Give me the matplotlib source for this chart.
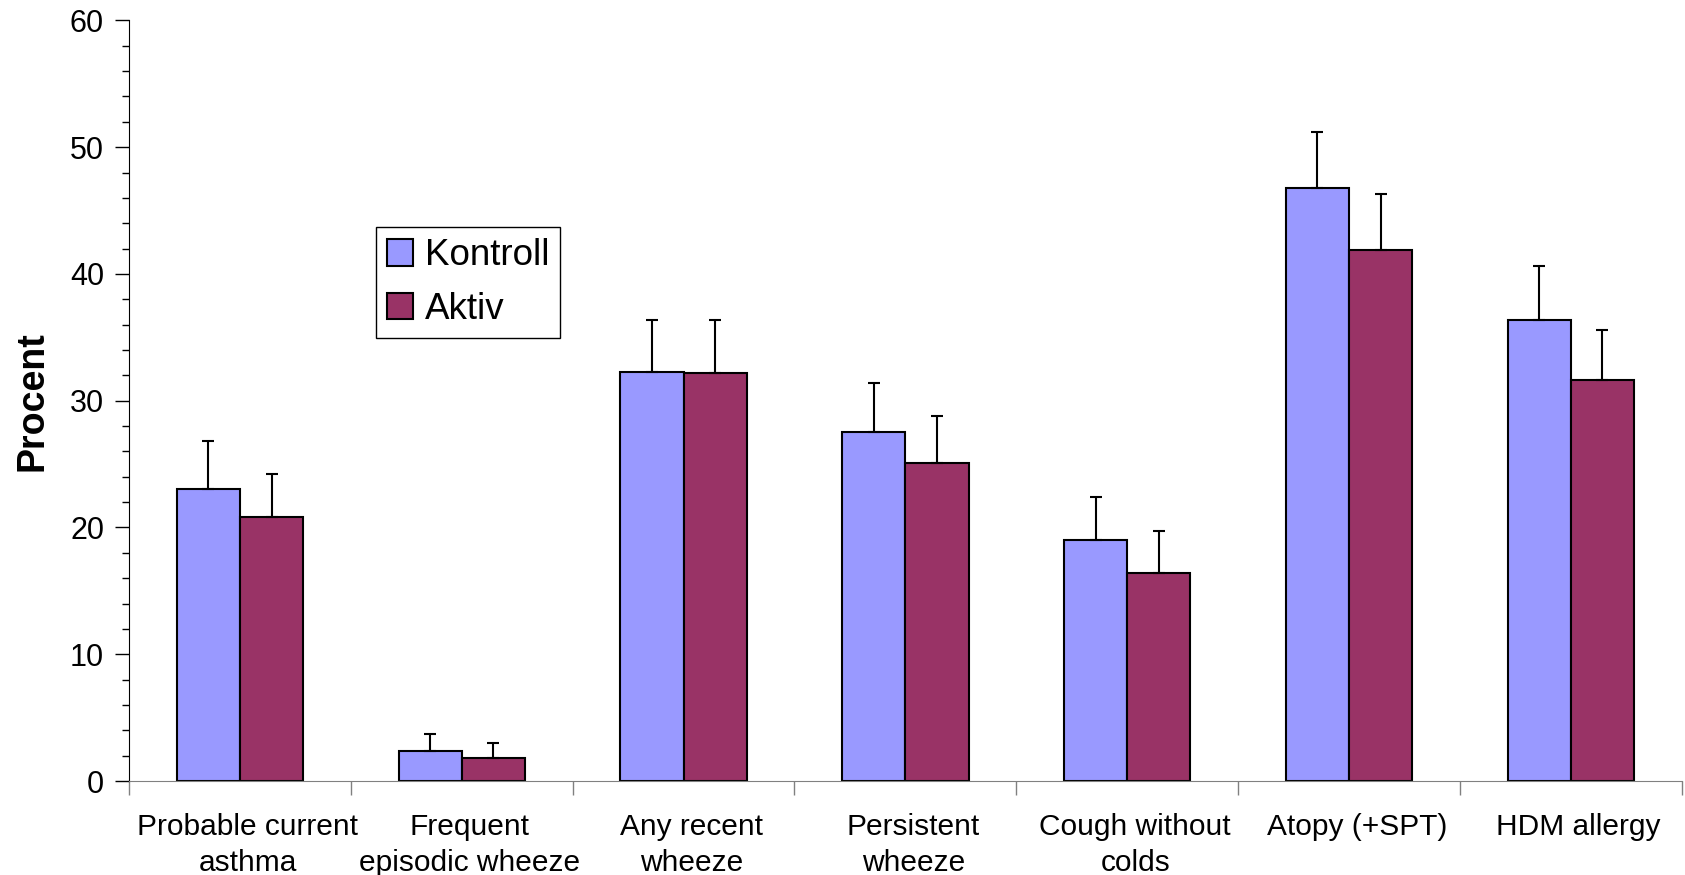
import numpy as np
import matplotlib.pyplot as plt
import matplotlib.transforms as mtransforms
from matplotlib import font_manager
from matplotlib.ticker import MultipleLocator, FixedLocator

categories = ['Probable current\nasthma', 'Frequent\nepisodic wheeze', 'Any recent\nwheeze',
              'Persistent\nwheeze', 'Cough without\ncolds', 'Atopy (+SPT)', 'HDM allergy']
kontroll = [23.0, 2.4, 32.3, 27.5, 19.0, 46.8, 36.4]
kontroll_err = [3.8, 1.3, 4.1, 3.9, 3.4, 4.4, 4.2]
aktiv = [20.8, 1.8, 32.2, 25.1, 16.4, 41.9, 31.6]
aktiv_err = [3.4, 1.2, 4.2, 3.7, 3.3, 4.4, 4.0]

plt.rcParams['font.family'] = ['Liberation Sans', 'DejaVu Sans']
names = set(f.name for f in font_manager.fontManager.ttflist)
narrow = 'Liberation Sans Narrow' in names
label_font = 'Liberation Sans Narrow' if narrow else 'Liberation Sans'

fig = plt.figure(figsize=(16.85, 8.75), dpi=100)
ax = fig.add_axes([0.0766, 0.1074, 0.9214, 0.8693])

ind = np.arange(len(categories))
width = 0.285
err_kw = dict(ecolor='black', elinewidth=1.5, capsize=4, capthick=1.5)
ax.bar(ind - width / 2, kontroll, width, color='#9999FF', edgecolor='black', linewidth=1.5,
       yerr=[np.zeros(len(kontroll)), kontroll_err], error_kw=err_kw, label='Kontroll')
ax.bar(ind + width / 2, aktiv, width, color='#993366', edgecolor='black', linewidth=1.5,
       yerr=[np.zeros(len(aktiv)), aktiv_err], error_kw=err_kw, label='Aktiv')

ax.set_xlim(-0.5, len(categories) - 0.5)
ax.set_ylim(0, 60)
ax.yaxis.set_major_locator(MultipleLocator(10))
ax.yaxis.set_minor_locator(MultipleLocator(2))
ax.tick_params(axis='y', which='major', direction='out', length=10, width=1, labelsize=22, pad=8)
ax.tick_params(axis='y', which='minor', direction='out', length=5, width=1)

ax.xaxis.set_major_locator(FixedLocator(np.arange(len(categories) + 1) - 0.5))
ax.xaxis.set_minor_locator(FixedLocator(ind))
ax.set_xticklabels([], minor=False)
ax.set_xticklabels(categories, minor=True)
ax.tick_params(axis='x', which='major', direction='out', length=10, width=1, color='#808080')
ax.tick_params(axis='x', which='minor', length=0, labelsize=21.5, pad=23)
shift = mtransforms.ScaledTranslation(8 / 100, 0, fig.dpi_scale_trans)
for lab in ax.xaxis.get_minorticklabels():
    lab.set_linespacing(1.35)
    lab.set_transform(lab.get_transform() + shift)

for s in ['top', 'right']:
    ax.spines[s].set_visible(False)
ax.spines['bottom'].set_color('#808080')
ax.spines['left'].set_color('black')

ax.set_ylabel('Procent', fontsize=30 if narrow else 27, fontweight='bold',
              family=label_font, labelpad=14)

ax.legend(loc='upper left', bbox_to_anchor=(0.159, 0.728), fontsize=26.5, frameon=True,
          fancybox=False, edgecolor='black', framealpha=1, handlelength=0.72, handleheight=0.72,
          handletextpad=0.3, borderpad=0.3, labelspacing=0.5, borderaxespad=0)

fig.savefig('out.png', dpi=100)
